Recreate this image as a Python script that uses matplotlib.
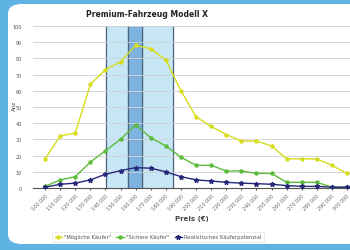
import numpy as np
import matplotlib.pyplot as plt
from matplotlib.patches import FancyBboxPatch

# Preise in Schritten von 10.000 EUR
preise = list(range(100000, 300001, 10000))
preis_labels = [f"{p // 1000} 000" for p in preise]

moegliche = [18, 32, 34, 64, 73, 78, 88, 86, 79, 60, 44, 38, 33, 29, 29, 26, 18, 18, 18, 14, 9]
sichere = [1, 5, 7, 16, 23, 30, 39, 31, 26, 19, 14, 14, 10.5, 10.5, 9, 9, 3.5, 3.5, 3.5, 0.5, 0.5]
realistisch = [0.5, 2.3, 3, 5, 8.5, 10.7, 12.6, 12.2, 10, 7, 5, 4.3, 3.5, 3, 2.7, 2.3, 1.5, 1, 1, 0.5, 0.5]

# Preisbereiche (Index auf der Kategorie-Achse)
bereich_hell = (4.05, 8.5)
bereich_dunkel = (5.5, 6.45)

fig = plt.figure(figsize=(3.5, 2.51), dpi=100)
fig.patch.set_facecolor("#5db3e2")

# weisses Panel mit runder Ecke
panel = FancyBboxPatch((8 / 350, 6 / 251), 1.1, 240 / 251, transform=fig.transFigure,
                       boxstyle="round,pad=0,rounding_size=0.04",
                       facecolor="white", edgecolor="none", zorder=-5)
fig.patches.append(panel)

ax = fig.add_axes([33 / 350, 1 - 189 / 251, 1 - 33 / 350, (189 - 27) / 251])
ax.set_zorder(1)
ax.set_facecolor("none")
x = np.arange(len(preise))

ax.axvspan(*bereich_hell, color="#c8e7f6", zorder=0)
ax.axvspan(*bereich_dunkel, color="#7eb2e0", zorder=0)
for v in list(bereich_hell) + list(bereich_dunkel):
    ax.axvline(v, color="#4d6478", lw=0.9, zorder=1)

ax.plot(x, moegliche, color="#d7dc1c", lw=1.0, marker="o", ms=2.2, label='"Mögliche Käufer"', zorder=3)
ax.plot(x, sichere, color="#5cbb3a", lw=1.0, marker="o", ms=2.2, label='"Sichere Käufer"', zorder=3)
ax.plot(x, realistisch, color="#26287a", lw=1.0, marker="*", ms=3.5, label="Realistisches Käuferpotenzial", zorder=4)

ax.set_xlim(-0.8, 20.2)
ax.set_ylim(0, 100)
ax.set_yticks(range(0, 101, 10))
ax.tick_params(axis="y", labelsize=3.5, labelcolor="#555555", length=0, pad=8)
ax.set_xticks(x)
ax.set_xticklabels(preis_labels, rotation=45, ha="right", rotation_mode="anchor",
                   fontsize=3.5, color="#666666")
ax.tick_params(axis="x", length=1.5, color="#555555", pad=2)
ax.grid(axis="y", color="#d0d0d0", lw=0.6, zorder=0.5)
for s in ["top", "right", "left"]:
    ax.spines[s].set_visible(False)
ax.spines["bottom"].set_color("#555555")
ax.spines["bottom"].set_linewidth(0.8)

ax.set_xlabel("Preis (€)", fontsize=5, fontweight="bold", color="#444444", labelpad=3)
fig.text(14 / 350, 1 - 106 / 251, "Anz", rotation=90, fontsize=4, color="#444444",
         ha="center", va="center")
fig.text(147 / 350, 1 - 15 / 251, "Premium-Fahrzeug Modell X", fontsize=5.5,
         fontweight="bold", color="#222222", ha="center", va="center")

leg = fig.legend(loc="center", bbox_to_anchor=(158 / 350, 1 - 238 / 251), ncol=3,
                 fontsize=3.8, frameon=True, handlelength=1.4, columnspacing=1.0,
                 borderpad=0.5, handletextpad=0.4)
leg.get_frame().set_edgecolor("#dddddd")
leg.get_frame().set_linewidth(0.5)
for t in leg.get_texts():
    t.set_color("#555555")

plt.savefig("out.png", dpi=100)
